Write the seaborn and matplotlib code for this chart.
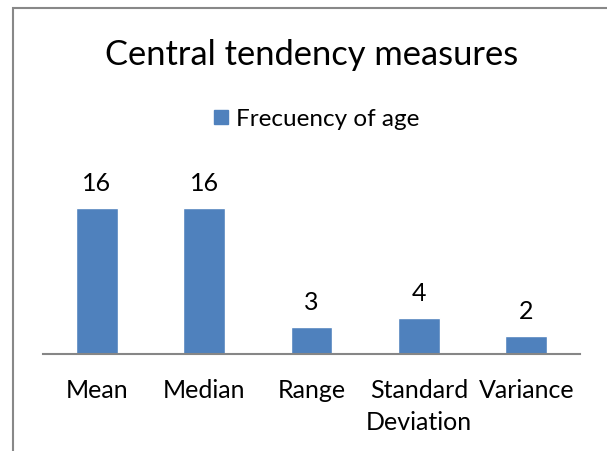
import matplotlib
matplotlib.use("Agg")
import matplotlib.pyplot as plt
import seaborn as sns
import pandas as pd
from matplotlib.patches import Rectangle, Patch

categories = ["Mean", "Median", "Range", "Standard\nDeviation", "Variance"]
values = [16, 16, 3, 4, 2]
series_name = "Frecuency of age"
title = "Central tendency measures"

sns.set_style("white")
plt.rcParams['font.family'] = ['Lato', 'DejaVu Sans']
plt.rcParams['text.color'] = 'black'
plt.rcParams['xtick.color'] = 'black'

df = pd.DataFrame({"cat": categories, "val": values})
W, H = 607, 452
fig = plt.figure(figsize=(W/100, H/100), dpi=100)
ax = fig.add_axes([43/W, 1-355/H, (580-43)/W, (355-191)/H])
color = "#4F81BD"
sns.barplot(data=df, x="cat", y="val", color=color, width=0.39, ax=ax, saturation=1)
ax.set_ylim(0, 18)
ax.set_xlim(-0.5, 4.5)
for s in ["top", "right", "left"]:
    ax.spines[s].set_visible(False)
ax.spines["bottom"].set_color("#868686")
ax.spines["bottom"].set_linewidth(1.5)
ax.set_yticks([])
ax.set_xlabel("")
ax.set_ylabel("")
ax.tick_params(axis="x", length=0, labelsize=18, pad=17, labelcolor="black")
for lbl in ax.get_xticklabels():
    lbl.set_linespacing(1.5)
    lbl.set_verticalalignment("top")
for c in ax.containers:
    ax.bar_label(c, fmt="%d", padding=10, fontsize=18, color="black")

fig.text(312/W, 1-55/H, title, ha="center", va="center", fontsize=24.8, color="black")
fig.legend(handles=[Patch(color=color, label=series_name)], loc="center",
           bbox_to_anchor=(317/W, 1-120/H), frameon=False, fontsize=17.5,
           handlelength=0.55, handleheight=0.55, handletextpad=0.35, labelcolor="black")

fig.patches.append(Rectangle((13/W, -0.1), 1.2, 1-9/H+0.1, transform=fig.transFigure,
                             fill=False, edgecolor="#888888", linewidth=1.5))
fig.savefig("out.png", dpi=100)
